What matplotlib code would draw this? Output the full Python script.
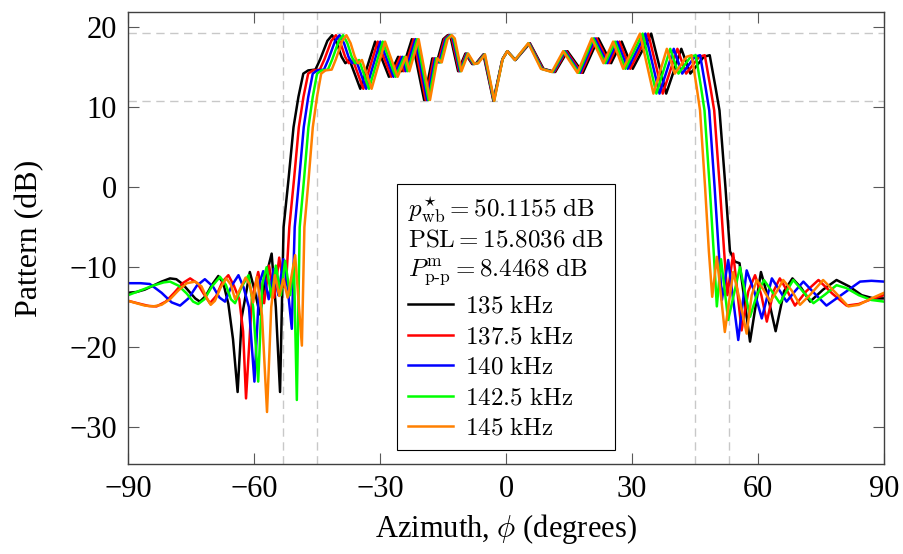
import numpy as np
import matplotlib
matplotlib.use("Agg")
import matplotlib.pyplot as plt

# --- data (azimuth deg, pattern dB) ---
pts_135 = [(-90, -13.2), (-88, -13.1), (-86, -12.8), (-84, -12.3), (-82, -11.8), (-80, -11.4), (-78.5, -11.5),
           (-77, -12.1), (-75.5, -13.0), (-74, -13.9), (-72.9, -14.3), (-71.5, -13.6), (-70, -12.2), (-68.5, -11.1),
           (-67.3, -12.0), (-66.1, -14.6), (-65, -19.0), (-63.9, -25.6), (-62.9, -16.2), (-61, -10.6), (-59.8, -13.0),
           (-58.6, -15.9), (-57.3, -11.5), (-55.8, -8.3), (-54.8, -15.0), (-53.8, -25.6),
           (-52.96, -5.0), (-51.78, 1.0), (-50.59, 7.5), (-49.42, 11.3), (-48.26, 14.2), (-47.09, 14.6), (-45.37, 14.7),
           (-44.23, 16.0), (-42.52, 18.3), (-41.40, 19.0), (-40.27, 18.0), (-39.15, 16.3), (-38.25, 15.5), (-37.25, 15.9),
           (-34.69, 12.3), (-31.16, 18.2), (-27.87, 13.8), (-25.68, 16.3), (-24.82, 14.5), (-22.42, 18.5), (-19.49, 10.9),
           (-17.55, 16.1), (-16.47, 15.6), (-14.95, 18.5), (-13.88, 19.0), (-13.12, 18.6), (-11.40, 14.5), (-9.67, 16.7),
           (-8.06, 15.4), (-7.09, 15.5), (-5.38, 16.6), (-3.01, 10.8), (-0.86, 16.0), (0.32, 17.0), (2.26, 15.9),
           (5.69, 18.0), (8.92, 14.8), (11.72, 14.4), (14.63, 17.0), (18.31, 14.3), (21.99, 18.6), (25.03, 15.5),
           (27.54, 18.2), (30.17, 14.8), (34.58, 19.2), (38.14, 11.7), (41.74, 17.3), (43.89, 14.2), (47.09, 16.3),
           (48.50, 16.5), (49.88, 12.5), (50.83, 9.6), (52.25, 0.0), (53.32, -8.0),
           (54.5, -9.3), (55.6, -9.5), (58.1, -19.3), (60.7, -10.6), (62.5, -14.0), (64.2, -18.0), (66.2, -13.0),
           (68.2, -11.4), (70.3, -12.6), (72.4, -14.3), (75.5, -12.8), (78.7, -11.6), (81.7, -12.4), (84.7, -13.5),
           (87.5, -13.9), (90, -13.9)]

pts_1375 = [(-90, -14.2), (-87, -14.6), (-85, -14.85), (-83.2, -14.9), (-81, -14.3), (-79, -13.2), (-77, -12.0),
            (-75.2, -11.4), (-73.5, -12.0), (-72, -13.3), (-70.5, -14.5), (-69, -13.6), (-67.5, -11.8), (-66.1, -11.0),
            (-64.8, -12.3), (-63.5, -14.0), (-62.6, -18.0), (-61.9, -26.4), (-60.5, -14.0), (-59.0, -10.6),
            (-57.6, -14.5), (-56.4, -9.8), (-55.2, -13.8), (-54.0, -8.8), (-52.8, -12.5), (-52.2, -10.5),
            (-51.59, -5.0), (-50.47, 1.0), (-49.33, 7.5), (-48.22, 11.3), (-47.10, 14.2), (-45.98, 14.6), (-44.33, 14.7),
            (-43.22, 16.0), (-41.58, 18.3), (-40.49, 19.0), (-39.39, 18.0), (-38.30, 16.3), (-37.43, 15.5), (-36.46, 15.9),
            (-33.97, 12.3), (-30.54, 18.2), (-27.32, 13.8), (-25.18, 16.3), (-24.33, 14.5), (-21.99, 18.5), (-19.12, 10.9),
            (-17.22, 16.1), (-16.16, 15.6), (-14.67, 18.5), (-13.62, 19.0), (-12.87, 18.6), (-11.19, 14.5), (-9.49, 16.7),
            (-7.91, 15.4), (-6.96, 15.5), (-5.27, 16.6), (-2.95, 10.8), (-0.84, 16.0), (0.32, 17.0), (2.21, 15.9),
            (5.59, 18.0), (8.76, 14.8), (11.50, 14.4), (14.35, 17.0), (17.96, 14.3), (21.57, 18.6), (24.54, 15.5),
            (27.00, 18.2), (29.57, 14.8), (33.86, 19.2), (37.32, 11.7), (40.81, 17.3), (42.89, 14.2), (45.98, 16.3),
            (47.33, 16.5), (48.66, 12.5), (49.57, 9.6), (50.91, 0.0), (51.93, -8.0),
            (52.7, -13.5), (54.1, -8.3), (56.1, -17.9), (57.7, -13.0), (59.3, -11.0), (60.8, -13.5), (62.1, -16.8),
            (63.7, -13.0), (65.2, -11.4), (67, -13.0), (68.8, -14.8), (71.5, -13.0), (74.4, -11.6), (77.7, -13.3),
            (81.1, -14.8), (84, -14.6), (87, -14.0), (90, -13.5)]

pts_140 = [(-90, -12.0), (-87, -12.0), (-84.8, -12.1), (-82, -13.2), (-79.6, -14.4), (-77.6, -14.8), (-75.6, -13.9),
           (-73.6, -12.3), (-71.7, -11.5), (-69.8, -12.4), (-68.2, -13.8), (-66.9, -14.3), (-65.3, -12.3), (-63.7, -11.0),
           (-62.5, -12.5), (-61.2, -15.0), (-59.9, -24.3), (-58.7, -12.0), (-57.8, -10.5), (-56.5, -14.0), (-55.3, -10.2),
           (-54.2, -13.5), (-53.0, -9.0), (-52.0, -12.5), (-51.0, -17.7),
           (-50.31, -5.0), (-49.25, 1.0), (-48.16, 7.5), (-47.08, 11.3), (-46.01, 14.2), (-44.94, 14.6), (-43.34, 14.7),
           (-42.27, 16.0), (-40.68, 18.3), (-39.62, 19.0), (-38.56, 18.0), (-37.50, 16.3), (-36.65, 15.5), (-35.71, 15.9),
           (-33.28, 12.3), (-29.93, 18.2), (-26.79, 13.8), (-24.70, 16.3), (-23.87, 14.5), (-21.58, 18.5), (-18.77, 10.9),
           (-16.90, 16.1), (-15.86, 15.6), (-14.41, 18.5), (-13.37, 19.0), (-12.64, 18.6), (-10.99, 14.5), (-9.32, 16.7),
           (-7.77, 15.4), (-6.83, 15.5), (-5.18, 16.6), (-2.90, 10.8), (-0.83, 16.0), (0.31, 17.0), (2.18, 15.9),
           (5.49, 18.0), (8.60, 14.8), (11.29, 14.4), (14.09, 17.0), (17.63, 14.3), (21.16, 18.6), (24.08, 15.5),
           (26.48, 18.2), (28.99, 14.8), (33.18, 19.2), (36.55, 11.7), (39.94, 17.3), (41.96, 14.2), (44.94, 16.3),
           (46.22, 16.5), (47.51, 12.5), (48.39, 9.6), (49.67, 0.0), (50.65, -8.0),
           (51.4, -14.1), (52.9, -9.1), (55.3, -19.1), (57.3, -10.4), (59.1, -13.0), (60.9, -16.4), (63.3, -11.4),
           (65, -12.8), (66.8, -14.3), (68.8, -13.0), (70.8, -11.8), (73.5, -13.3), (76.3, -14.8), (80.3, -13.3),
           (84.3, -11.8), (87, -11.7), (90, -11.8)]

pts_1425 = [(-90, -13.5), (-87, -12.9), (-84, -12.3), (-81.5, -11.9), (-80, -11.8), (-78, -12.3), (-76, -13.3),
            (-74.5, -14.3), (-73.3, -14.6), (-71.8, -14.0), (-70, -12.4), (-68.1, -11.2), (-66.7, -12.2), (-65.5, -14.0),
            (-64.5, -14.5), (-63, -12.5), (-61.3, -11.0), (-60.2, -15.0), (-59.0, -24.3), (-58, -12.0), (-57, -10.0),
            (-55.8, -13.8), (-54.8, -9.8), (-53.6, -13.5), (-52.6, -9.2), (-51.4, -13.5), (-50.5, -9.5), (-49.8, -26.6),
            (-49.12, -5.0), (-48.09, 1.0), (-47.04, 7.5), (-46.01, 11.3), (-44.98, 14.2), (-43.94, 14.6), (-42.39, 14.7),
            (-41.36, 16.0), (-39.81, 18.3), (-38.79, 19.0), (-37.76, 18.0), (-36.73, 16.3), (-35.91, 15.5), (-34.99, 15.9),
            (-32.63, 12.3), (-29.35, 18.2), (-26.28, 13.8), (-24.24, 16.3), (-23.42, 14.5), (-21.18, 18.5), (-18.43, 10.9),
            (-16.60, 16.1), (-15.58, 15.6), (-14.15, 18.5), (-13.13, 19.0), (-12.42, 18.6), (-10.79, 14.5), (-9.16, 16.7),
            (-7.63, 15.4), (-6.72, 15.5), (-5.09, 16.6), (-2.85, 10.8), (-0.81, 16.0), (0.31, 17.0), (2.14, 15.9),
            (5.39, 18.0), (8.45, 14.8), (11.09, 14.4), (13.84, 17.0), (17.31, 14.3), (20.77, 18.6), (23.63, 15.5),
            (25.98, 18.2), (28.43, 14.8), (32.52, 19.2), (35.81, 11.7), (39.10, 17.3), (41.06, 14.2), (43.94, 16.3),
            (45.18, 16.5), (46.43, 12.5), (47.26, 9.6), (48.51, 0.0), (49.44, -8.0),
            (50.2, -14.9), (51.2, -9.0), (52.9, -16.6), (55.7, -10.0), (58.1, -16.2), (59.7, -13.5), (61.4, -11.6),
            (63.3, -13.0), (65.2, -14.5), (66.8, -13.0), (68.4, -11.6), (70.8, -13.1), (73.2, -14.5), (76, -13.4),
            (78.7, -12.25), (81, -12.6), (84, -13.5), (87, -14.1), (90, -14.3)]

pts_145 = [(-90, -14.2), (-88, -14.5), (-86, -14.8), (-84, -14.9), (-82, -14.7), (-80, -14.0), (-78, -12.9),
           (-76, -12.0), (-74, -11.8), (-72.5, -12.4), (-71.3, -13.8), (-70.3, -14.7), (-69.3, -14.2), (-68, -12.6),
           (-66.6, -11.4), (-65.5, -12.2), (-64.5, -14.0), (-63.2, -12.6), (-62, -11.3), (-61, -12.2), (-60.2, -14.4),
           (-59.3, -11.2), (-58.1, -16.0), (-56.9, -28.1), (-55.9, -15.0), (-55.0, -11.0), (-54, -13.6), (-53, -11.5),
           (-52, -13.8), (-51.2, -11.5), (-50.2, -8.5), (-48.6, -19.8),
           (-48, -5.0), (-47, 1.0), (-46, 7.5), (-45, 11.3), (-44, 14.2), (-43, 14.6), (-41.5, 14.7), (-40.5, 16.0),
           (-39, 18.3), (-38, 19.0), (-37, 18.0), (-36, 16.3), (-35.2, 15.5), (-34.3, 15.9), (-32, 12.3), (-28.8, 18.2),
           (-25.8, 13.8), (-23.8, 16.3), (-23, 14.5), (-20.8, 18.5), (-18.1, 10.9), (-16.3, 16.1), (-15.3, 15.6),
           (-13.9, 18.5), (-12.9, 19.0), (-12.2, 18.6), (-10.6, 14.5), (-9.0, 16.7), (-7.5, 15.4), (-6.6, 15.5),
           (-5.0, 16.6), (-2.8, 10.8), (-0.8, 16.0), (0.3, 17.0), (2.1, 15.9), (5.3, 18.0), (8.3, 14.8), (10.9, 14.4),
           (13.6, 17.0), (17.0, 14.3), (20.4, 18.6), (23.2, 15.5), (25.5, 18.2), (27.9, 14.8), (31.9, 19.2),
           (35.1, 11.7), (38.3, 17.3), (40.2, 14.2), (43.0, 16.3), (44.2, 16.5), (45.4, 12.5), (46.2, 9.6), (47.4, 0.0),
           (48.3, -8.0),
           (49.1, -13.7), (50.2, -8.7), (52.1, -18.1), (54.1, -10.6), (55.6, -14.0), (57.3, -18.3), (58.5, -13.5),
           (59.7, -11.6), (61.3, -12.8), (62.9, -14.3), (64.5, -13.0), (66.0, -11.6), (68, -12.9), (70.0, -14.7),
           (72.5, -13.4), (75.5, -11.6), (78.5, -13.2), (81.5, -14.9), (84, -14.7), (87, -13.9), (90, -13.2)]

series = [("135", pts_135, "black"), ("137.5", pts_1375, "#ff0000"), ("140", pts_140, "#0000ff"),
          ("142.5", pts_1425, "#00ff00"), ("145", pts_145, "#ff8000")]

p_wb = 50.1155
psl = 15.8036
p_pp = 8.4468
ml_max, ml_min = 19.25, 10.80     # mainlobe ripple bounds (dashed)
edge_in, edge_out = 45, 53        # mainlobe edges (dashed)

# --- style ---
plt.rcParams["font.family"] = "serif"
plt.rcParams["font.serif"] = ["Liberation Serif", "DejaVu Serif"]
plt.rcParams["mathtext.fontset"] = "cm"
plt.rcParams["axes.unicode_minus"] = True

fig = plt.figure(figsize=(9.04, 5.54), dpi=100)
ax = fig.add_axes([128/904, 1 - 464/554, 756/904, 452/554])

grid_kw = dict(color="#c8c8c8", lw=1.0, ls=(0, (6, 4)), zorder=0.5)
for yv in (ml_max, ml_min):
    ax.axhline(yv, **grid_kw)
for xv in (-edge_out, -edge_in, edge_in, edge_out):
    ax.axvline(xv, **grid_kw)

handles = []
for f, pts, col in series:
    a = np.array(pts)
    ln, = ax.plot(a[:, 0], a[:, 1], color=col, lw=1.8, zorder=2)
    handles.append(ln)

ax.set_xlim(-90, 90)
ax.set_ylim(-34.6, 21.9)
ax.set_xticks([-90, -60, -30, 0, 30, 60, 90])
ax.set_yticks([-30, -20, -10, 0, 10, 20])
ax.tick_params(direction="in", length=8, width=0.8, color="0.35", top=True, right=True,
               labelsize=22, pad=8)
for sp in ax.spines.values():
    sp.set_color("0.25")
    sp.set_linewidth(1.0)

ax.set_xlabel(r"Azimuth, $\phi$ (degrees)", fontsize=22, labelpad=6)
ax.set_ylabel("Pattern (dB)", fontsize=23, labelpad=18)

title = (r"$p^{\star}_{\mathrm{wb}} = %.4f\ \mathrm{dB}$" % p_wb + "\n"
         + r"$\mathrm{PSL} = %.4f\ \mathrm{dB}$" % psl + "\n"
         + r"$P^{\mathrm{m}}_{\text{p-p}} = %.4f\ \mathrm{dB}$" % p_pp)
labels = [r"$%s\ \mathrm{kHz}$" % f for f, _, _ in series]
leg = ax.legend(handles, labels, title=title, loc="upper center", bbox_to_anchor=(0, 0.4),
                bbox_transform=ax.transData, borderaxespad=0, fontsize=18, title_fontsize=18,
                alignment="left", frameon=True, fancybox=False, edgecolor="black", framealpha=1,
                handlelength=1.8, handletextpad=0.5, borderpad=0.42, labelspacing=0.32)
leg.get_frame().set_linewidth(0.8)
leg.get_title().set_linespacing(1.25)

fig.savefig("out.png", dpi=100)
